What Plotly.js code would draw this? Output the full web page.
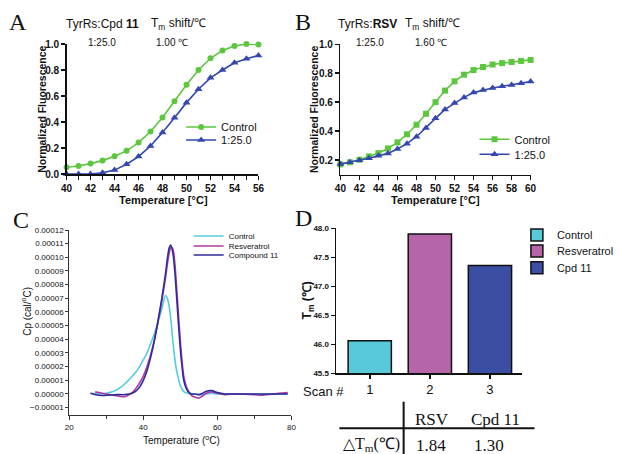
<!DOCTYPE html>
<html>
<head>
<meta charset="utf-8">
<script src="https://cdn.plot.ly/plotly-3.0.1.min.js"></script>
<style>html,body{margin:0;padding:0;background:#fff;}#chart{width:619px;height:454px;}</style>
</head>
<body>
<div id="chart"></div>
<script>
// ---- Panel A: TyrRs:Cpd 11 thermal shift ----
const tempA = [40,41,42,43,44,45,46,47,48,49,50,51,52,53,54,55,56];
const ctrlA = [0.052,0.062,0.08,0.103,0.137,0.178,0.242,0.327,0.435,0.559,0.686,0.80,0.89,0.95,0.985,1.0,0.997];
const cpdA  = [0,0,0,0.01,0.03,0.075,0.134,0.216,0.32,0.433,0.549,0.652,0.74,0.80,0.855,0.887,0.912];

// ---- Panel B: TyrRs:RSV thermal shift ----
const tempB = [40,41,42,43,44,45,46,47,48,49,50,51,52,53,54,55,56,57,58,59,60];
const ctrlB = [0.17,0.184,0.202,0.225,0.248,0.28,0.322,0.378,0.444,0.52,0.60,0.68,0.744,0.79,0.822,0.843,0.86,0.87,0.878,0.885,0.892];
const rsvB  = [0.173,0.184,0.198,0.212,0.23,0.246,0.276,0.313,0.361,0.421,0.488,0.55,0.594,0.633,0.666,0.684,0.698,0.71,0.719,0.73,0.742];

// ---- Panel C: DSC thermograms ----
const tempCtrlC = [26,28,30,32,34,36,38,39,40,41,42,43,44,45,46,46.5,47,47.5,48,48.5,49,49.5,50,50.5,51,52,53,55,57,58.5,60,62,65,70,75,79];
const cpCtrlC   = [0.05e-5,0,0.05e-5,0.2e-5,0.5e-5,1.0e-5,1.6e-5,2.0e-5,2.5e-5,3.0e-5,3.7e-5,4.4e-5,5.3e-5,6.2e-5,7.2e-5,7.0e-5,6.4e-5,5.3e-5,3.8e-5,2.6e-5,1.7e-5,1.1e-5,0.6e-5,0.35e-5,0.15e-5,0.05e-5,0,-0.05e-5,0,0.05e-5,0,0,0,0,0,0];
const tempRsvC  = [27,30,33,35,37,38,39,40,41,42,43,44,45,46,46.5,47,47.5,48,48.5,49,49.5,50,50.5,51,52,53,54,55,56,57,58.5,60,62,65,70,72,75,79];
const cpRsvC    = [0.15e-5,0,-0.15e-5,-0.2e-5,0.1e-5,0.4e-5,0.8e-5,1.3e-5,2.0e-5,2.9e-5,4.0e-5,5.3e-5,6.8e-5,8.5e-5,9.5e-5,10.3e-5,10.75e-5,10.6e-5,9.6e-5,7.8e-5,5.8e-5,3.9e-5,2.3e-5,1.2e-5,0.3e-5,-0.1e-5,-0.25e-5,-0.3e-5,-0.15e-5,0.05e-5,0.15e-5,0.05e-5,-0.05e-5,0,-0.05e-5,-0.1e-5,0,0.1e-5];
const tempCpdC  = [25.7,28,30,33,35,37,38,39,40,41,42,43,44,45,46,46.5,47,47.4,48,48.5,49,49.5,50,50.5,51,52,53,54,55,56,57,58.5,60,62,65,70,75,79];
const cpCpdC    = [0.05e-5,-0.1e-5,-0.1e-5,-0.05e-5,-0.05e-5,0.05e-5,0.2e-5,0.5e-5,1.0e-5,1.7e-5,2.7e-5,3.9e-5,5.4e-5,7.0e-5,8.8e-5,9.9e-5,10.7e-5,10.9e-5,10.3e-5,9.0e-5,7.1e-5,5.1e-5,3.3e-5,1.9e-5,0.9e-5,0.2e-5,0,0,-0.05e-5,0.05e-5,0.2e-5,0.25e-5,0.1e-5,0,0,0,0,0];

// ---- Panel D: Tm bars ----
const scanNums = [1,2,3];
const tmValues = [46.06,47.90,47.36];
const tmNames  = ['Control','Resveratrol','Cpd 11'];
const dtmHeads = ['RSV','Cpd 11'];
const dtmValues = ['1.84','1.30'];

const W = 619, H = 454;
const px = x => x / W;
const py = y => 1 - y / H;
const SANS = 'Liberation Sans, Arial, sans-serif';
const SERIF = 'Liberation Serif, Times New Roman, serif';

const green = '#5cc63e', blueTri = '#3446b0';
const cC = ['#52cde0','#b13aa6','#2c2c9c'];
const cD = ['#57c9d8','#b765a9','#3a4ea4'];

const traces = [];
traces.push({x: tempA, y: ctrlA, xaxis:'x', yaxis:'y', name:'Control', mode:'lines+markers',
  line:{color:green, width:1.6}, marker:{symbol:'circle', size:6, color:green}, cliponaxis:false, legend:'legend'});
traces.push({x: tempA, y: cpdA, xaxis:'x', yaxis:'y', name:'1:25.0', mode:'lines+markers',
  line:{color:blueTri, width:1.6}, marker:{symbol:'triangle-up', size:7, color:blueTri}, cliponaxis:false, legend:'legend2'});
traces.push({x: tempB, y: ctrlB, xaxis:'x2', yaxis:'y2', name:'Control', mode:'lines+markers',
  line:{color:green, width:1.6}, marker:{symbol:'square', size:6, color:green}, cliponaxis:false, legend:'legend3'});
traces.push({x: tempB, y: rsvB, xaxis:'x2', yaxis:'y2', name:'1:25.0', mode:'lines+markers',
  line:{color:blueTri, width:1.6}, marker:{symbol:'triangle-up', size:7, color:blueTri}, cliponaxis:false, legend:'legend4'});
traces.push({x: tempCtrlC, y: cpCtrlC, xaxis:'x3', yaxis:'y3', name:'Control', mode:'lines',
  line:{color:cC[0], width:1.6, shape:'spline', smoothing:0.8}, legend:'legend5'});
traces.push({x: tempRsvC, y: cpRsvC, xaxis:'x3', yaxis:'y3', name:'Resveratrol', mode:'lines',
  line:{color:cC[1], width:1.6, shape:'spline', smoothing:0.8}, legend:'legend6'});
traces.push({x: tempCpdC, y: cpCpdC, xaxis:'x3', yaxis:'y3', name:'Compound 11', mode:'lines',
  line:{color:cC[2], width:1.6, shape:'spline', smoothing:0.8}, legend:'legend7'});
for (let i = 0; i < scanNums.length; i++) {
  traces.push({type:'bar', x:[scanNums[i]], y:[tmValues[i]], xaxis:'x4', yaxis:'y4', name:tmNames[i],
    width:0.72, marker:{color:cD[i], line:{color:'#111', width:1.5}}, legend:'legend' + (8 + i)});
}

const axBase = {showgrid:false, zeroline:false, showline:true, linecolor:'#111', linewidth:1.5,
  ticks:'outside', ticklen:4, tickwidth:1.5, tickcolor:'#111', fixedrange:true};
const boldTick = {family:SANS, size:10, color:'#111', weight:'bold'};

function leg(x, y, size) {
  return {x:px(x), y:py(y), xanchor:'left', yanchor:'middle', bgcolor:'rgba(0,0,0,0)',
    font:{family:SANS, size:size, color:'#111'}, itemwidth:30, borderwidth:0};
}

const ann = [];
function t(text, x, y, size, opts) {
  ann.push(Object.assign({text:text, x:px(x), y:py(y), xref:'paper', yref:'paper', showarrow:false,
    xanchor:'center', yanchor:'middle', font:{family:SANS, size:size, color:'#111'}}, opts || {}));
}
const serif = s => ({font:{family:SERIF, size:s, color:'#111'}});
// panel letters
t('A', 18, 22, 24, serif(24));
t('B', 310, 22, 24, serif(24));
t('C', 21, 220, 24, serif(24));
t('D', 310.5, 218, 24, serif(24));
// headers A
t('TyrRs:Cpd <b>11</b>', 104.8, 24, 12);
t('T<sub>m</sub> shift/℃', 182.8, 24, 12);
t('1:25.0', 104, 43, 10);
t('1.00 ℃', 176, 43, 10);
// headers B
t('TyrRs:<b>RSV</b>', 375.5, 24, 12);
t('T<sub>m</sub> shift/℃', 441.5, 24, 12);
t('1:25.0', 378, 43, 10);
t('1.60 ℃', 440.5, 43, 10);
// axis titles A, B
t('<b>Normalized Fluorescence</b>', 42.7, 109, 10.5, {textangle:-90});
t('<b>Temperature [°C]</b>', 166.7, 200, 11);
t('<b>Normalized Fluorescence</b>', 320.7, 109, 10.5, {textangle:-90});
t('<b>Temperature [°C]</b>', 445, 200, 11);
// axis titles C
t('Cp (cal/<sup>o</sup>C)', 26.7, 311.7, 10, {textangle:-90});
t('Temperature (<sup>o</sup>C)', 185, 440, 10);
// D
t('<b>T<sub>m</sub> (℃)</b>', 315, 300, 12, {textangle:-90});
t('Scan #', 330, 391.7, 13);
t(dtmHeads[0], 441.7, 419, 17, serif(17));
t(dtmHeads[1], 506, 419, 17, serif(17));
t('△T<sub>m</sub>(℃)', 379, 444.5, 16, serif(16));
t(dtmValues[0], 440, 445, 17, serif(17));
t(dtmValues[1], 500, 445, 17, serif(17));

const shapes = [
  {type:'line', xref:'paper', yref:'paper', x0:px(346.7), x1:px(546), y0:py(428.3), y1:py(428.3), line:{color:'#111', width:2}},
  {type:'line', xref:'paper', yref:'paper', x0:px(412.3), x1:px(412.3), y0:py(401.7), y1:py(454), line:{color:'#111', width:2}}
];

const layout = {
  width:W, height:H, margin:{l:0, r:0, t:0, b:0}, paper_bgcolor:'#fff', plot_bgcolor:'rgba(0,0,0,0)',
  font:{family:SANS, color:'#111'}, barmode:'overlay', showlegend:true,
  xaxis: Object.assign({}, axBase, {domain:[px(68), px(264)], range:[40,56], anchor:'y', tick0:40, dtick:2, tickfont:boldTick,
    minor:{dtick:1, ticks:'outside', ticklen:4, tickwidth:1.5, tickcolor:'#111'}}),
  yaxis: Object.assign({}, axBase, {domain:[py(174), py(44)], range:[0,1], anchor:'x', dtick:0.2, tickformat:'.1f', tickfont:boldTick}),
  xaxis2: Object.assign({}, axBase, {domain:[px(347.7), px(542)], range:[40,60], anchor:'y2', tick0:40, dtick:2, tickfont:boldTick}),
  yaxis2: Object.assign({}, axBase, {domain:[py(174.5), py(44.3)], range:[0.1,1.0], anchor:'x2', tickvals:[0.2,0.4,0.6,0.8,1.0], tickformat:'.1f', tickfont:boldTick}),
  xaxis3: Object.assign({}, axBase, {domain:[px(70.7), px(297.7)], range:[20,80], anchor:'y3', tick0:20, dtick:20, linewidth:1, tickwidth:1, linecolor:'#333', tickcolor:'#333',
    tickfont:{family:SANS, size:8, color:'#111'}, minor:{dtick:10, ticks:'outside', ticklen:2.5, tickwidth:1, tickcolor:'#333'}}),
  yaxis3: Object.assign({}, axBase, {domain:[py(415), py(230)], range:[-1.54e-5, 1.2e-4], anchor:'x3', tick0:0, dtick:1e-5, tickformat:'.5f',
    linewidth:1, tickwidth:1, linecolor:'#333', tickcolor:'#333', ticklen:3, tickfont:{family:SANS, size:8, color:'#111'}}),
  xaxis4: Object.assign({}, axBase, {domain:[px(343.3), px(533)], range:[0.44,3.53], anchor:'y4', tickvals:[1,2,3], ticktext:['1','2','3'],
    ticklabelstandoff:0, tickfont:{family:SANS, size:13, color:'#111'}}),
  yaxis4: Object.assign({}, axBase, {domain:[py(373.3), py(228.3)], range:[45.5,48.0], anchor:'x4', dtick:0.5, tick0:45.5, tickformat:'.1f',
    tickfont:{family:SANS, size:8, color:'#111', weight:'bold'}}),
  legend: leg(185, 127, 11),
  legend2: leg(185, 140, 11),
  legend3: leg(484.7, 139.3, 11),
  legend4: leg(484.7, 154.3, 11),
  legend5: leg(192.7, 236, 8),
  legend6: leg(192.7, 246, 8),
  legend7: leg(192.7, 255, 8),
  legend8: leg(528, 235, 11),
  legend9: leg(528, 251, 11),
  legend10: leg(528, 267.7, 11),
  annotations: ann,
  shapes: shapes
};

Plotly.newPlot('chart', traces, layout, {displayModeBar:false, staticPlot:true});
</script>
</body>
</html>
